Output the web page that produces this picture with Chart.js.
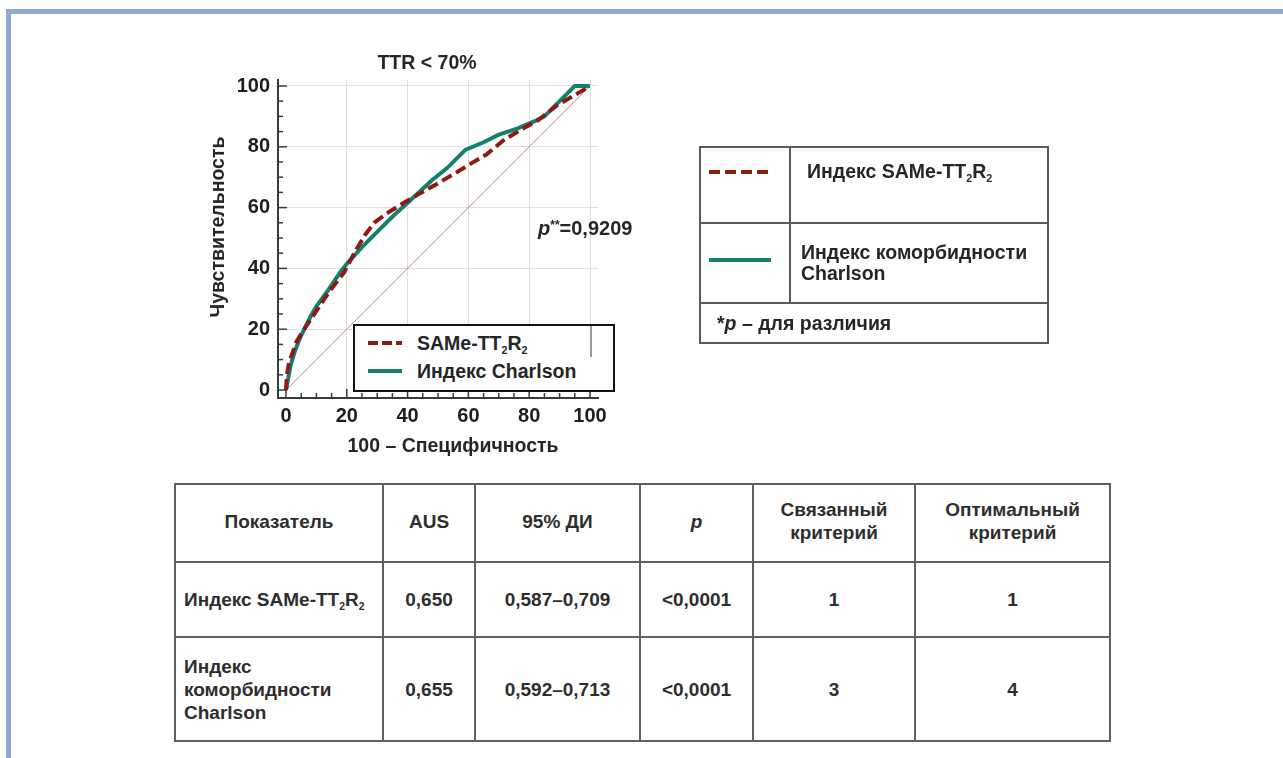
<!DOCTYPE html>
<html lang="ru">
<head>
<meta charset="utf-8">
<title>ROC-кривые, TTR &lt; 70%</title>
<script src="https://cdn.jsdelivr.net/npm/chart.js@4.4.1/dist/chart.umd.min.js"></script>
<style>
  html, body { margin: 0; padding: 0; background: #fff; }
  body {
    width: 1283px; height: 758px; position: relative; overflow: hidden;
    font-family: 'Liberation Sans', Arial, sans-serif; font-weight: bold; color: #262626;
  }
  sub { font-size: 0.55em; vertical-align: -0.35em; line-height: 0; }
  sup { font-size: 0.6em; vertical-align: 0.5em; line-height: 0; }

  /* blue page frame (top + left only) */
  .frame-top  { position: absolute; left: 6px; top: 9px; right: 0; height: 5px; background: #8fa9d3; }
  .frame-left { position: absolute; left: 6px; top: 9px; bottom: 0; width: 5px; background: #8fa9d3; }

  #roc-wrap { position: absolute; left: 200px; top: 40px; width: 440px; height: 420px; }
  .lbl { position: absolute; font-size: 19.5px; line-height: 22px; white-space: nowrap; text-align: center; }
  #plot-title { left: 327px; top: 51px; width: 200px; }
  #y-title { left: 117px; top: 216px; width: 200px; transform: rotate(-90deg); }
  #x-title { left: 303px; top: 434px; width: 300px; }
  #p-note { left: 538px; top: 217px; text-align: left; font-size: 20px; }

  /* legend box inside the plot */
  #inner-key {
    position: absolute; left: 353px; top: 324px; width: 258px; height: 64px;
    border: 2.5px solid #111; background: #fff; font-size: 19.5px;
  }
  #inner-key .row { position: absolute; left: 0; height: 22px; line-height: 22px; }
  #inner-key svg { position: absolute; left: 13px; top: 8px; }
  #inner-key span { position: absolute; left: 62px; top: 0; white-space: nowrap; }
  #inner-key .grid100 { position: absolute; left: 235px; top: 0; width: 2px; height: 31px; background: #999; }

  /* key table at right */
  #key { position: absolute; left: 699px; top: 146px; border-collapse: collapse; table-layout: fixed; font-size: 19.5px; }
  #key td { border: 2px solid #5a5a5a; padding: 0; }
  #key .c1 { width: 88px; }
  #key .c2 { width: 256px; }
  #key tr.r1 td { height: 74px; vertical-align: top; }
  #key tr.r2 td { height: 78px; vertical-align: middle; }
  #key tr.r3 td { height: 38px; vertical-align: middle; padding-left: 16px; }
  #key tr.r1 .txt { padding: 12px 0 0 16px; }
  #key tr.r2 .txt { padding-left: 10px; line-height: 21px; }
  #key svg { display: block; margin-left: 8px; }

  /* results table */
  #res { position: absolute; left: 174px; top: 483px; border-collapse: collapse; table-layout: fixed; font-size: 19px; color: #2e2e2e; }
  #res td { border: 2px solid #5f5f5f; padding: 0; text-align: center; vertical-align: middle; line-height: 23px; }
  #res td.name { text-align: left; padding-left: 8px; }
  #res tr.h td { height: 72px; padding-bottom: 4px; }
  #res tr.a td { height: 73px; }
  #res tr.b td { height: 102px; }
</style>
</head>
<body>
<div class="frame-top"></div>
<div class="frame-left"></div>

<div id="roc-wrap"><canvas id="roc"></canvas></div>
<div class="lbl" id="plot-title">TTR &lt; 70%</div>
<div class="lbl" id="y-title">Чувствительность</div>
<div class="lbl" id="x-title">100 – Специфичность</div>
<div class="lbl" id="p-note"><i>p</i><sup>**</sup>=0,9209</div>

<div id="inner-key">
  <div class="grid100"></div>
  <div class="row" style="top:6px">
    <svg width="34" height="6"><line x1="0" y1="3" x2="34" y2="3" stroke="#8c1c13" stroke-width="4" stroke-dasharray="10 4"/></svg>
    <span>SAMe-TT<sub>2</sub>R<sub>2</sub></span>
  </div>
  <div class="row" style="top:34px">
    <svg width="34" height="6"><line x1="0" y1="3" x2="34" y2="3" stroke="#16806f" stroke-width="4"/></svg>
    <span>Индекс Charlson</span>
  </div>
</div>

<table id="key">
  <tr class="r1">
    <td class="c1"><div style="height:21px"></div><svg width="62" height="6"><line x1="0" y1="3" x2="62" y2="3" stroke="#8c1c13" stroke-width="4" stroke-dasharray="11 5"/></svg></td>
    <td class="c2"><div class="txt">Индекс SAMe-TT<sub>2</sub>R<sub>2</sub></div></td>
  </tr>
  <tr class="r2">
    <td class="c1"><svg width="62" height="6" style="margin-top:-6px"><line x1="0" y1="3" x2="62" y2="3" stroke="#16806f" stroke-width="4"/></svg></td>
    <td class="c2"><div class="txt">Индекс коморбидности<br>Charlson</div></td>
  </tr>
  <tr class="r3"><td colspan="2">*<i>p</i> – для различия</td></tr>
</table>

<table id="res"></table>

<script>
// ROC curves, TTR < 70% (in %)
const SAME_FPR = [0, 0.3, 1, 3.5, 6, 10, 14, 19, 23, 26, 29, 33, 37, 42, 50, 56, 60, 66, 72, 78, 83, 89, 95, 100];
const SAME_TPR = [0, 5, 9, 16, 20, 26, 32, 38.5, 46, 51, 55, 58, 60.5, 63.5, 68, 71.5, 74, 77.5, 82.5, 86, 88.8, 93.5, 97, 100];

const CHARLSON_FPR = [0, 1.5, 3, 5, 8, 10, 14, 18, 20, 25, 29, 35, 41, 48, 53, 59, 65, 70, 76, 82, 85, 90, 95, 100];
const CHARLSON_TPR = [0, 8, 13, 18, 24, 27.5, 33, 39, 41.5, 47, 51, 57, 62.5, 69, 73, 79, 81.5, 84, 86, 88.5, 90, 95, 100, 100];

const CHANCE_FPR = [0, 100];
const CHANCE_TPR = [0, 100];

const MAJOR_TICKS = [0, 20, 40, 60, 80, 100];
const MINOR_STEP = 5;

// results table
const RES_HEAD = ['Показатель', 'AUS', '95% ДИ', '<i>p</i>', 'Связанный<br>критерий', 'Оптимальный<br>критерий'];
const RES_NAMES = ['Индекс SAMe-TT<sub>2</sub>R<sub>2</sub>', 'Индекс<br>коморбидности<br>Charlson'];
const RES_AUC = ['0,650', '0,655'];
const RES_CI = ['0,587–0,709', '0,592–0,713'];
const RES_P = ['&lt;0,0001', '&lt;0,0001'];
const RES_ASSOC = ['1', '3'];
const RES_OPT = ['1', '4'];

const COL_W = [208, 92, 165, 113, 162, 195];

/* ── table ─────────────────────────────────────────────── */
(function buildTable() {
  const t = document.getElementById('res');
  const cg = document.createElement('colgroup');
  COL_W.forEach(w => { const c = document.createElement('col'); c.style.width = w + 'px'; cg.appendChild(c); });
  t.appendChild(cg);
  let html = '<tr class="h">' + RES_HEAD.map(h => '<td>' + h + '</td>').join('') + '</tr>';
  RES_NAMES.forEach((n, i) => {
    html += '<tr class="' + (i === 0 ? 'a' : 'b') + '">' +
      '<td class="name">' + n + '</td>' +
      '<td>' + RES_AUC[i] + '</td>' +
      '<td>' + RES_CI[i] + '</td>' +
      '<td>' + RES_P[i] + '</td>' +
      '<td>' + RES_ASSOC[i] + '</td>' +
      '<td>' + RES_OPT[i] + '</td></tr>';
  });
  t.insertAdjacentHTML('beforeend', html);
})();

/* ── chart ─────────────────────────────────────────────── */
const pts = (xs, ys) => xs.map((x, i) => ({ x, y: ys[i] }));

const FONT_TICK = { family: "'Liberation Sans', Arial, sans-serif", size: 20, weight: 'bold' };

// inward major / minor ticks on the offset axes
const inwardTicks = {
  id: 'inwardTicks',
  beforeDatasetsDraw(chart) {
    const { ctx, chartArea, scales: { x, y } } = chart;
    ctx.save();
    ctx.strokeStyle = '#3a3a3a';
    ctx.lineWidth = 1.5;
    for (let v = MAJOR_TICKS[0]; v <= MAJOR_TICKS[MAJOR_TICKS.length - 1]; v += MINOR_STEP) {
      const len = MAJOR_TICKS.includes(v) ? 9 : 5;
      const px = x.getPixelForValue(v);
      ctx.beginPath(); ctx.moveTo(px, chartArea.bottom); ctx.lineTo(px, chartArea.bottom - len); ctx.stroke();
      const py = y.getPixelForValue(v);
      ctx.beginPath(); ctx.moveTo(chartArea.left, py); ctx.lineTo(chartArea.left + len, py); ctx.stroke();
    }
    ctx.restore();
  },
};

const fixTicks = scale => { scale.ticks = MAJOR_TICKS.map(v => ({ value: v })); };
const gridColor = ctx => (ctx.tick && ctx.tick.value === 0 ? 'rgba(0,0,0,0)' : '#e0e0e0');

new Chart(document.getElementById('roc'), {
  type: 'scatter',
  data: {
    datasets: [
      {
        label: 'SAMe-TT2R2',
        data: pts(SAME_FPR, SAME_TPR),
        showLine: true,
        borderColor: '#8c1c13',
        borderWidth: 4,
        borderDash: [11, 5],
        pointRadius: 0,
        tension: 0,
      },
      {
        label: 'Индекс Charlson',
        data: pts(CHARLSON_FPR, CHARLSON_TPR),
        showLine: true,
        borderColor: '#16806f',
        borderWidth: 4,
        pointRadius: 0,
        tension: 0,
      },
      {
        label: 'chance',
        data: pts(CHANCE_FPR, CHANCE_TPR),
        showLine: true,
        borderColor: '#c98580',
        borderWidth: 1,
        pointRadius: 0,
      },
    ],
  },
  options: {
    responsive: true,
    maintainAspectRatio: false,
    animation: false,
    layout: { padding: { left: 0, right: 42, top: 40, bottom: 0 } },
    plugins: { legend: { display: false }, tooltip: { enabled: false }, title: { display: false } },
    scales: {
      x: {
        type: 'linear',
        min: -2.63, max: 102.63,
        afterBuildTicks: fixTicks,
        afterFit: s => { s.height = 62; s.paddingLeft = 0; s.paddingRight = 0; },
        ticks: { color: '#1e1e1e', font: FONT_TICK, padding: 6, maxRotation: 0 },
        grid: { drawTicks: false, color: gridColor, lineWidth: 1 },
        border: { display: true, color: '#3a3a3a', width: 2 },
      },
      y: {
        type: 'linear',
        min: -2.63, max: 101.97,
        afterBuildTicks: fixTicks,
        afterFit: s => { s.width = 78; s.paddingTop = 0; s.paddingBottom = 0; },
        ticks: { color: '#1e1e1e', font: FONT_TICK, padding: 8 },
        grid: { drawTicks: false, color: gridColor, lineWidth: 1 },
        border: { display: true, color: '#3a3a3a', width: 2 },
      },
    },
  },
  plugins: [inwardTicks],
});
</script>
</body>
</html>
